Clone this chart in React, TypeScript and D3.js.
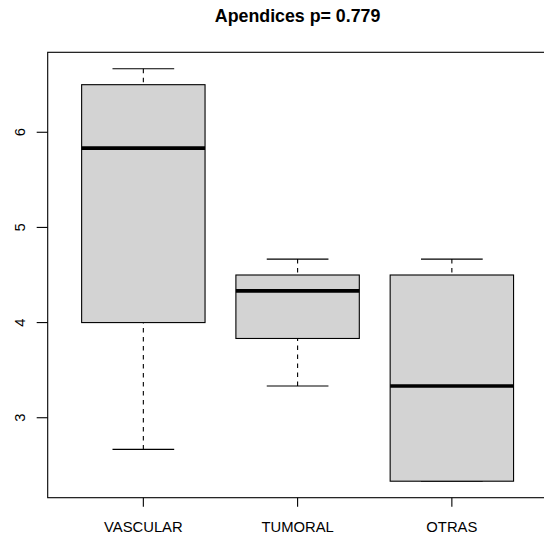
import React from "react";
import * as d3 from "d3";

const categories = ["VASCULAR", "TUMORAL", "OTRAS"];
const lowerWhisker = [2.667, 3.333, 2.333];
const q1 = [4.0, 3.833, 2.333];
const medians = [5.833, 4.333, 3.333];
const q3 = [6.5, 4.5, 4.5];
const upperWhisker = [6.667, 4.667, 4.667];
const yTicks = [3, 4, 5, 6];
const title = "Apendices p= 0.779";

export default function App() {
  const W = 544, H = 536;
  const left = 47.7, right = 547.5, top = 52.3, bottom = 497.7;
  const yMin = 2.333, yMax = 6.667;
  const pad = (yMax - yMin) * 0.04;
  const y = d3.scaleLinear().domain([yMin - pad, yMax + pad]).range([bottom, top]);
  const n = categories.length;
  const xpad = n * 0.04;
  const x = d3.scaleLinear().domain([0.5 - xpad, n + 0.5 + xpad]).range([left, right]);
  const boxHalf = (x(1.4) - x(1)) ;
  const capHalf = (x(1.2) - x(1));
  const font = "'Liberation Sans', Arial, sans-serif";
  const stroke = "#000";
  return (
    <svg width={W} height={H} style={{ position: "absolute", left: 0, top: 0, background: "#fff" }}>
      <rect width={W} height={H} fill="#fff" />
      <text x={(left + right) / 2} y={21.5} textAnchor="middle" fontFamily={font} fontWeight="bold" fontSize={17.8} fill="#000">
        {title}
      </text>
      {categories.map((c, i) => {
        const cx = x(i + 1);
        return (
          <g key={c}>
            <line x1={cx} x2={cx} y1={y(upperWhisker[i])} y2={y(q3[i])} stroke={stroke} strokeWidth={1.1} strokeDasharray="4.5,4.5" />
            <line x1={cx} x2={cx} y1={y(lowerWhisker[i])} y2={y(q1[i])} stroke={stroke} strokeWidth={1.1} strokeDasharray="4.5,4.5" />
            <line x1={cx - capHalf} x2={cx + capHalf} y1={y(upperWhisker[i])} y2={y(upperWhisker[i])} stroke={stroke} strokeWidth={1.1} />
            <line x1={cx - capHalf} x2={cx + capHalf} y1={y(lowerWhisker[i])} y2={y(lowerWhisker[i])} stroke={stroke} strokeWidth={1.1} />
            <rect x={cx - boxHalf} y={y(q3[i])} width={2 * boxHalf} height={y(q1[i]) - y(q3[i])} fill="#D3D3D3" stroke={stroke} strokeWidth={1.1} />
            <line x1={cx - boxHalf} x2={cx + boxHalf} y1={y(medians[i])} y2={y(medians[i])} stroke={stroke} strokeWidth={3.6} />
            <line x1={cx} x2={cx} y1={bottom} y2={bottom + 9} stroke={stroke} strokeWidth={1.1} />
            <text x={cx} y={532} textAnchor="middle" fontFamily={font} fontSize={14.8} fill="#000">{c}</text>
          </g>
        );
      })}
      {yTicks.map((t) => (
        <g key={t}>
          <line x1={left - 11} x2={left} y1={y(t)} y2={y(t)} stroke={stroke} strokeWidth={1.1} />
          <text transform={`translate(${24.5},${y(t)}) rotate(-90)`} textAnchor="middle" fontFamily={font} fontSize={14.8} fill="#000">{t}</text>
        </g>
      ))}
      <rect x={left} y={top} width={right - left} height={bottom - top} fill="none" stroke={stroke} strokeWidth={1.1} />
    </svg>
  );
}
